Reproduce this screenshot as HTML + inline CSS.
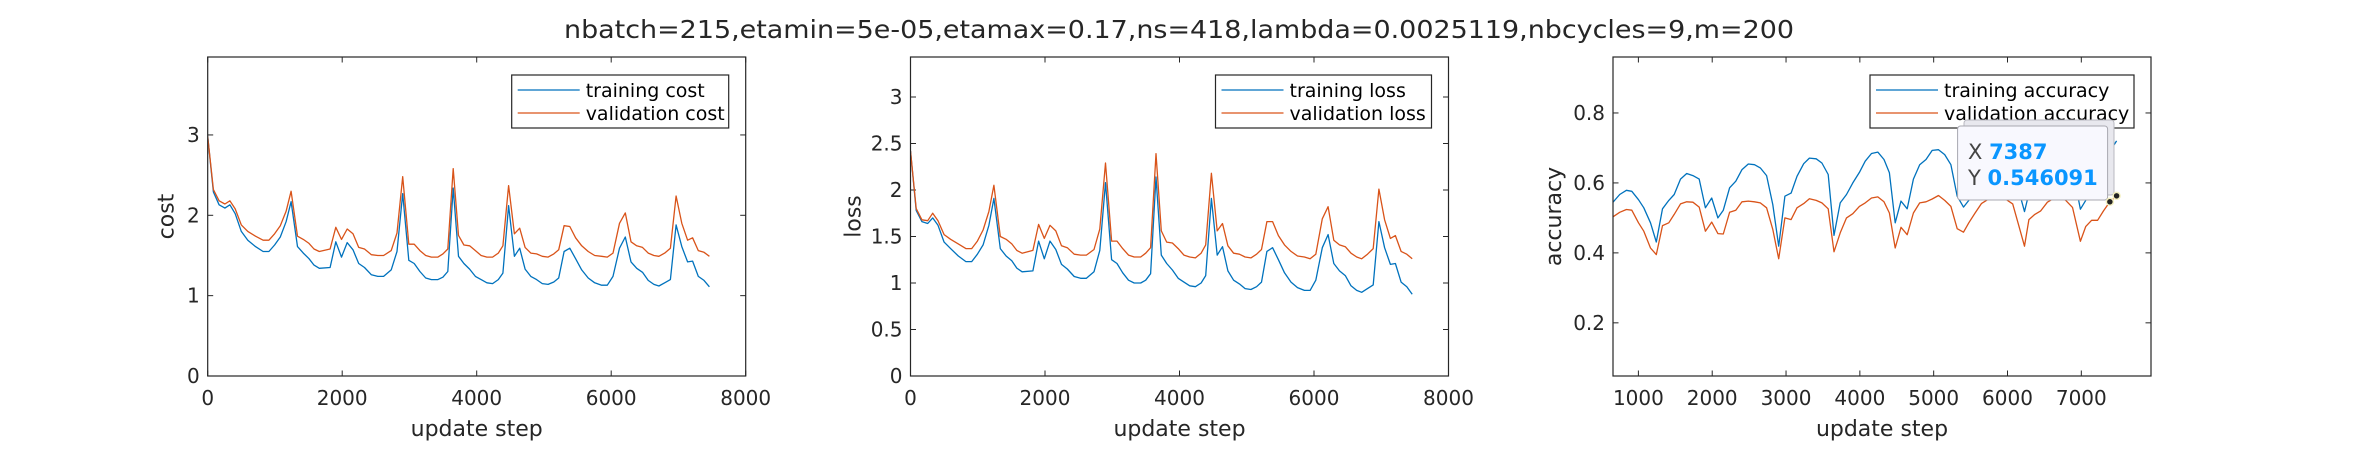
<!DOCTYPE html>
<html><head><meta charset="utf-8"><style>
html,body{margin:0;padding:0;background:#fff;}
svg{display:block;font-family:"DejaVu Sans","Liberation Sans",sans-serif;}
</style></head><body>
<svg id="fig" width="2359" height="458" viewBox="0 0 2359 458" xmlns="http://www.w3.org/2000/svg">
<rect width="2359" height="458" fill="#fff"/>
<text x="1179" y="38" text-anchor="middle" font-size="25" fill="#262626" textLength="1230" lengthAdjust="spacingAndGlyphs">nbatch=215,etamin=5e-05,etamax=0.17,ns=418,lambda=0.0025119,nbcycles=9,m=200</text>
</svg>
<script>
const stepX = [0,85,170,256,330,409,500,597,711,824,910,995,1080,1166,1240,1336,1421,1507,1581,1660,1820,1905,1990,2075,2161,2246,2331,2434,2530,2616,2729,2815,2900,2991,3070,3156,3241,3326,3423,3497,3571,3650,3730,3810,3895,3980,4066,4151,4236,4321,4390,4475,4560,4640,4719,4805,4890,4975,5061,5146,5220,5299,5385,5470,5561,5658,5754,5857,5942,6027,6124,6209,6294,6379,6465,6550,6635,6709,6795,6880,6965,7050,7136,7210,7295,7380,7460];
const costTrain = [2.98,2.29,2.13,2.09,2.13,2.02,1.80,1.69,1.61,1.55,1.55,1.63,1.73,1.92,2.17,1.61,1.53,1.46,1.38,1.34,1.35,1.67,1.48,1.66,1.57,1.40,1.35,1.26,1.24,1.24,1.32,1.55,2.27,1.44,1.40,1.30,1.22,1.20,1.20,1.23,1.30,2.34,1.49,1.40,1.33,1.24,1.20,1.16,1.15,1.20,1.28,2.12,1.49,1.59,1.33,1.24,1.20,1.15,1.14,1.17,1.22,1.55,1.59,1.46,1.32,1.22,1.16,1.13,1.13,1.24,1.59,1.73,1.42,1.34,1.29,1.19,1.14,1.12,1.16,1.20,1.88,1.61,1.42,1.43,1.24,1.19,1.11];
const costVal = [2.98,2.32,2.18,2.14,2.18,2.08,1.88,1.80,1.74,1.69,1.69,1.77,1.87,2.05,2.30,1.74,1.70,1.65,1.58,1.55,1.58,1.85,1.70,1.83,1.77,1.60,1.58,1.51,1.50,1.50,1.56,1.78,2.48,1.64,1.64,1.56,1.50,1.48,1.48,1.52,1.58,2.58,1.75,1.63,1.62,1.56,1.50,1.48,1.48,1.53,1.62,2.37,1.77,1.84,1.60,1.53,1.52,1.49,1.48,1.52,1.57,1.87,1.86,1.72,1.62,1.55,1.50,1.49,1.48,1.53,1.90,2.03,1.67,1.62,1.60,1.53,1.50,1.49,1.53,1.59,2.24,1.90,1.69,1.72,1.56,1.54,1.49];
const lossTrain = [2.42,1.78,1.66,1.64,1.70,1.62,1.44,1.37,1.29,1.23,1.23,1.31,1.41,1.62,1.91,1.37,1.29,1.24,1.16,1.12,1.13,1.45,1.26,1.45,1.36,1.20,1.15,1.07,1.05,1.05,1.12,1.35,2.08,1.25,1.21,1.11,1.03,1.00,1.00,1.03,1.10,2.14,1.30,1.21,1.14,1.05,1.01,0.97,0.96,1.00,1.08,1.91,1.30,1.39,1.13,1.03,0.99,0.94,0.93,0.96,1.01,1.34,1.38,1.25,1.11,1.01,0.95,0.92,0.92,1.03,1.38,1.52,1.21,1.13,1.08,0.97,0.92,0.90,0.94,0.98,1.66,1.38,1.20,1.21,1.01,0.96,0.88];
const lossVal = [2.42,1.80,1.68,1.67,1.75,1.67,1.52,1.47,1.42,1.37,1.37,1.45,1.57,1.77,2.05,1.50,1.47,1.42,1.35,1.32,1.35,1.63,1.48,1.62,1.56,1.40,1.38,1.31,1.30,1.30,1.36,1.58,2.29,1.45,1.45,1.37,1.30,1.28,1.28,1.32,1.38,2.39,1.56,1.44,1.43,1.37,1.30,1.28,1.27,1.32,1.41,2.18,1.56,1.64,1.40,1.32,1.31,1.28,1.27,1.31,1.36,1.66,1.66,1.51,1.41,1.34,1.29,1.28,1.26,1.31,1.69,1.82,1.46,1.41,1.39,1.32,1.28,1.26,1.31,1.37,2.01,1.68,1.48,1.51,1.34,1.31,1.26];
const accX = [656,747,837,910,1001,1073,1164,1243,1327,1412,1485,1570,1654,1739,1824,1908,1993,2077,2150,2235,2319,2404,2489,2573,2652,2737,2821,2900,2984,3069,3148,3239,3317,3408,3486,3571,3650,3734,3819,3904,3994,4073,4158,4243,4327,4400,4479,4557,4642,4726,4811,4896,4980,5065,5150,5234,5319,5404,5476,5561,5646,5730,5815,5900,5985,6070,6150,6230,6290,6370,6450,6540,6620,6710,6790,6880,6988,7060,7140,7220,7300,7387,7478];
const accTrain = [0.545,0.567,0.579,0.576,0.552,0.529,0.486,0.431,0.526,0.550,0.567,0.611,0.627,0.621,0.611,0.529,0.557,0.500,0.522,0.586,0.605,0.638,0.654,0.652,0.643,0.621,0.538,0.419,0.562,0.571,0.619,0.655,0.671,0.669,0.657,0.624,0.450,0.543,0.567,0.600,0.630,0.662,0.684,0.688,0.667,0.629,0.486,0.548,0.526,0.611,0.652,0.667,0.693,0.695,0.681,0.652,0.562,0.531,0.55,0.60,0.64,0.67,0.69,0.70,0.68,0.64,0.58,0.518,0.57,0.60,0.64,0.68,0.70,0.71,0.69,0.64,0.525,0.55,0.60,0.63,0.66,0.69,0.72];
const accVal = [0.503,0.516,0.524,0.522,0.486,0.462,0.414,0.395,0.478,0.486,0.510,0.540,0.546,0.545,0.531,0.462,0.488,0.455,0.454,0.516,0.522,0.546,0.548,0.546,0.543,0.529,0.467,0.383,0.500,0.495,0.529,0.541,0.555,0.550,0.543,0.526,0.403,0.457,0.500,0.512,0.533,0.543,0.557,0.560,0.546,0.514,0.414,0.473,0.452,0.514,0.543,0.546,0.554,0.564,0.550,0.533,0.469,0.459,0.486,0.514,0.541,0.552,0.558,0.560,0.552,0.540,0.48,0.419,0.495,0.51,0.52,0.545,0.555,0.56,0.55,0.53,0.433,0.475,0.493,0.493,0.52,0.546,0.563];
const xTicks1 = [0,2000,4000,6000,8000];
const yTicksCost = [0,1,2,3];
const yTicksLoss = [0,0.5,1,1.5,2,2.5,3];
const xTicksAcc = [1000,2000,3000,4000,5000,6000,7000];
const yTicksAcc = [0.2,0.4,0.6,0.8];
const tipX = 7387;
const tipY = 0.546091;

const NS = "http://www.w3.org/2000/svg";
const fig = document.getElementById('fig');
const BLUE = "#0072BD", ORANGE = "#D95319", AX = "#262626";
function mk(tag, attrs, parent) {
  const e = document.createElementNS(NS, tag);
  for (const k in attrs) e.setAttribute(k, attrs[k]);
  (parent || fig).appendChild(e);
  return e;
}
function fmt(v){ return String(v); }

function drawPanel(p) {
  const g = mk('g', {});
  
  
  const L = p.left, R = p.left + 538, T = 57, B = 376;
  const sx = v => L + (v - p.xmin) / (p.xmax - p.xmin) * (R - L);
  const sy = v => B - (v - p.ymin) / (p.ymax - p.ymin) * (B - T);
  const clipId = 'clip-' + p.name;
  const cp = mk('clipPath', {id: clipId}, g);
  mk('rect', {x: L, y: T, width: R - L, height: B - T}, cp);
  // ticks
  p.xt.forEach(v => {
    const x = sx(v);
    const t1 = mk('line', {x1: x, y1: B, x2: x, y2: B - 5.5, stroke: AX, 'stroke-width': 1}, g);
    
    
    mk('line', {x1: x, y1: T, x2: x, y2: T + 5.5, stroke: AX, 'stroke-width': 1}, g);
    const lb = mk('text', {x: x, y: 405, 'text-anchor': 'middle', 'font-size': 20, fill: AX}, g);
    
    
    lb.textContent = fmt(v);
  });
  p.yt.forEach(v => {
    const y = sy(v);
    const t1 = mk('line', {x1: L, y1: y, x2: L + 5.5, y2: y, stroke: AX, 'stroke-width': 1}, g);
    
    
    mk('line', {x1: R, y1: y, x2: R - 5.5, y2: y, stroke: AX, 'stroke-width': 1}, g);
    const lb = mk('text', {x: L - 8, y: y + 7, 'text-anchor': 'end', 'font-size': 20, fill: AX}, g);
    
    
    lb.textContent = fmt(v);
  });
  // series
  const series = [[p.train, BLUE, 'training-line'], [p.val, ORANGE, 'validation-line']];
  series.forEach(s => {
    const n = Math.min(p.x.length, s[0].length);
    let d = '';
    for (let i = 0; i < n; i++) d += (i ? 'L' : 'M') + sx(p.x[i]).toFixed(1) + ',' + sy(s[0][i]).toFixed(1);
    const path = mk('path', {d: d, fill: 'none', stroke: s[1], 'stroke-width': 1.3, 'stroke-linejoin': 'round', 'clip-path': 'url(#' + clipId + ')'}, g);
    
    
  });
  // box
  const box = mk('rect', {x: L, y: T, width: R - L, height: B - T, fill: 'none', stroke: AX, 'stroke-width': 1.2}, g);
  
  
  // axis labels
  const xl = mk('text', {x: (L + R) / 2, y: 436, 'text-anchor': 'middle', 'font-size': 22, fill: AX}, g);
  
  
  xl.textContent = 'update step';
  const yx = L - p.ylOff, yy = (T + B) / 2;
  const yl = mk('text', {x: yx, y: yy, 'text-anchor': 'middle', 'font-size': 22, fill: AX, transform: 'rotate(-90 ' + yx + ' ' + yy + ')'}, g);
  
  
  yl.textContent = p.ylabel;
  // legend
  const lg = mk('g', {}, g);
  
  
  const lw = p.legW, lx = R - 17 - lw, ly = 75;
  mk('rect', {x: lx, y: ly, width: lw, height: 53, fill: '#fff', stroke: AX, 'stroke-width': 1.2}, lg);
  [[BLUE, p.labels[0], 90], [ORANGE, p.labels[1], 113]].forEach(e => {
    const le = mk('g', {}, lg);
    
    
    mk('line', {x1: lx + 6, y1: e[2], x2: lx + 68, y2: e[2], stroke: e[0], 'stroke-width': 1.3}, le);
    const t = mk('text', {x: lx + 74, y: e[2] + 7, 'font-size': 19, fill: '#000'}, le);
    t.textContent = e[1];
  });
  return {sx, sy, g};
}

drawPanel({name: 'cost-panel', left: 207.7, xmin: 0, xmax: 8000, ymin: 0, ymax: 3.97, x: stepX, train: costTrain, val: costVal, xt: xTicks1, yt: yTicksCost, ylabel: 'cost', ylOff: 34, legW: 217, labels: ['training cost', 'validation cost']});
drawPanel({name: 'loss-panel', left: 910.5, xmin: 0, xmax: 8000, ymin: 0, ymax: 3.43, x: stepX, train: lossTrain, val: lossVal, xt: xTicks1, yt: yTicksLoss, ylabel: 'loss', ylOff: 50, legW: 216, labels: ['training loss', 'validation loss']});
const acc = drawPanel({name: 'accuracy-panel', left: 1613, xmin: 656, xmax: 7944, ymin: 0.048, ymax: 0.96, x: accX, train: accTrain, val: accVal, xt: xTicksAcc, yt: yTicksAcc, ylabel: 'accuracy', ylOff: 52, legW: 264, labels: ['training accuracy', 'validation accuracy']});

// data tip
const tip = mk('g', {}, acc.g);


mk('rect', {x: 1964, y: 120, width: 150, height: 75, rx: 3, fill: '#e8e8ee', stroke: '#b8b8c0', 'stroke-width': 1}, tip);
mk('rect', {x: 1957.6, y: 126, width: 150, height: 74, rx: 3, fill: '#f8f8fe', stroke: '#a8a8b0', 'stroke-width': 1}, tip);
const tx = mk('text', {x: 1968, y: 159, 'font-size': 21, fill: '#444'}, tip);
tx.textContent = 'X ';
const txv = mk('tspan', {'font-weight': 'bold', fill: '#0a96ff'}, tx);
txv.textContent = String(tipX);
const ty = mk('text', {x: 1968, y: 185, 'font-size': 21, fill: '#444'}, tip);
ty.textContent = 'Y ';
const tyv = mk('tspan', {'font-weight': 'bold', fill: '#0a96ff'}, ty);
tyv.textContent = String(tipY);
const m1 = mk('circle', {cx: acc.sx(tipX), cy: acc.sy(tipY), r: 3.5, fill: '#222', stroke: '#f4f0c0', 'stroke-width': 1.5}, acc.g);


const m2 = mk('circle', {cx: acc.sx(accX[accX.length - 1]), cy: acc.sy(accVal[accVal.length - 1]), r: 3.5, fill: '#222', stroke: '#f4f0c0', 'stroke-width': 1.5}, acc.g);


</script>
</body></html>
